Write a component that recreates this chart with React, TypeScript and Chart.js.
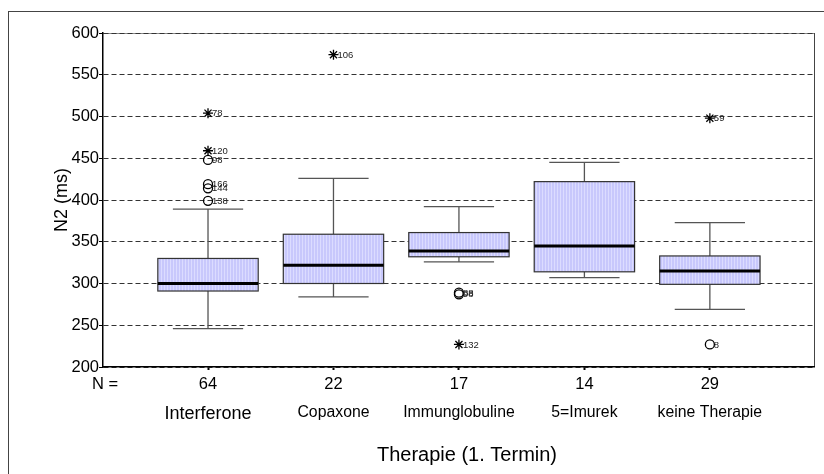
import { useEffect, useRef } from 'react';
import { Chart, registerables } from 'chart.js';

Chart.register(...registerables);

const FONT = "'Liberation Sans', Arial, Helvetica, sans-serif";

// Treatment groups and group sizes
const categories = ['Interferone', 'Copaxone', 'Immunglobuline', '5=Imurek', 'keine Therapie'];
const counts = [64, 22, 17, 14, 29];
const categoryFontSize = [18, 15.8, 15.8, 15.8, 15.8];
const categoryLabelShift = [0, 3, 7, -4, 6];

// Five-number summaries of N2 latency (ms) per group
const whiskerLow = [246, 284, 326, 307, 269];
const q1 = [291, 300, 332, 314, 299];
const median = [300, 322, 339, 345, 315];
const q3 = [330, 359, 361, 422, 333];
const whiskerHigh = [389, 426, 392, 445, 373];

// Outliers (circles) with case numbers
const outlierGroup = [0, 0, 0, 0, 2, 2, 4];
const outlierValue = [448, 419, 414, 399, 289, 287, 227];
const outlierCase = ['98', '166', '144', '138', '88', '98', '8'];

// Extreme values (stars) with case numbers
const extremeGroup = [0, 0, 1, 2, 4];
const extremeValue = [504, 459, 574, 227, 498];
const extremeCase = ['78', '120', '106', '132', '59'];

const yMin = 200;
const yMax = 600;
const yStep = 50;
const xTitle = 'Therapie (1. Termin)';

function makeStripePattern(ctx: CanvasRenderingContext2D) {
  const c = document.createElement('canvas');
  c.width = 3;
  c.height = 1;
  const p = c.getContext('2d')!;
  p.fillStyle = '#c8c8fc';
  p.fillRect(0, 0, 3, 1);
  p.fillStyle = '#dcdcff';
  p.fillRect(2, 0, 1, 1);
  return ctx.createPattern(c, 'repeat') || '#ccccff';
}

const boxPlotPlugin = {
  id: 'boxPlot',
  beforeDraw(chart: any) {
    const { ctx, width, height, chartArea } = chart;
    ctx.save();
    ctx.fillStyle = '#fff';
    ctx.fillRect(0, 0, width, height);
    // outer frame
    ctx.strokeStyle = '#444';
    ctx.lineWidth = 1;
    ctx.strokeRect(8.5, 11.5, width + 20, height + 20);
    // plot frame: top and right edges
    ctx.strokeStyle = '#888';
    ctx.beginPath();
    ctx.moveTo(chartArea.left, chartArea.top + 0.5);
    ctx.lineTo(chartArea.right, chartArea.top + 0.5);
    ctx.stroke();
    ctx.strokeStyle = '#444';
    ctx.beginPath();
    ctx.moveTo(chartArea.right + 0.5, chartArea.top);
    ctx.lineTo(chartArea.right + 0.5, chartArea.bottom);
    ctx.stroke();
    // axis title below the group labels
    ctx.fillStyle = '#000';
    ctx.font = `20px ${FONT}`;
    ctx.textAlign = 'center';
    ctx.textBaseline = 'middle';
    ctx.fillText(xTitle, 467, 455);
    ctx.restore();
  },
  beforeDatasetsDraw(chart: any) {
    const { ctx } = chart;
    const xs = chart.scales.x;
    const ys = chart.scales.y;
    const fill = makeStripePattern(ctx);
    ctx.save();
    categories.forEach((_, i) => {
      const xc = xs.getPixelForValue(i + 1);
      const half = xs.getPixelForValue(i + 1.4) - xc;
      const capHalf = xs.getPixelForValue(i + 1.28) - xc;
      const yLo = ys.getPixelForValue(whiskerLow[i]);
      const yQ1 = ys.getPixelForValue(q1[i]);
      const yMed = ys.getPixelForValue(median[i]);
      const yQ3 = ys.getPixelForValue(q3[i]);
      const yHi = ys.getPixelForValue(whiskerHigh[i]);

      // whiskers and caps
      ctx.strokeStyle = '#555';
      ctx.lineWidth = 1.3;
      ctx.beginPath();
      ctx.moveTo(xc, yQ3);
      ctx.lineTo(xc, yHi);
      ctx.moveTo(xc, yQ1);
      ctx.lineTo(xc, yLo);
      ctx.moveTo(xc - capHalf, yHi);
      ctx.lineTo(xc + capHalf, yHi);
      ctx.moveTo(xc - capHalf, yLo);
      ctx.lineTo(xc + capHalf, yLo);
      ctx.stroke();

      // box
      ctx.fillStyle = fill;
      ctx.fillRect(xc - half, yQ3, half * 2, yQ1 - yQ3);
      ctx.strokeStyle = '#333';
      ctx.lineWidth = 1.2;
      ctx.strokeRect(xc - half, yQ3, half * 2, yQ1 - yQ3);

      // median
      ctx.strokeStyle = '#000';
      ctx.lineWidth = 3;
      ctx.beginPath();
      ctx.moveTo(xc - half, yMed);
      ctx.lineTo(xc + half, yMed);
      ctx.stroke();
    });
    ctx.restore();
  },
  afterDatasetsDraw(chart: any) {
    const { ctx } = chart;
    ctx.save();
    ctx.font = `9.5px ${FONT}`;
    ctx.fillStyle = '#222';
    ctx.textAlign = 'left';
    ctx.textBaseline = 'middle';
    const caseLabels = [outlierCase, extremeCase];
    caseLabels.forEach((labels, d) => {
      const meta = chart.getDatasetMeta(d);
      meta.data.forEach((pt: any, i: number) => {
        ctx.fillText(labels[i], pt.x + 4, pt.y + 0.5);
      });
    });
    ctx.restore();
  },
};

export default function App() {
  const canvasRef = useRef<HTMLCanvasElement | null>(null);

  useEffect(() => {
    const canvas = canvasRef.current;
    if (!canvas) return;

    const chart = new Chart(canvas, {
      type: 'scatter',
      data: {
        datasets: [
          {
            label: 'Ausreißer',
            data: outlierValue.map((v, i) => ({ x: outlierGroup[i] + 1, y: v })),
            pointStyle: 'circle',
            pointRadius: 4.5,
            pointBorderWidth: 1.3,
            pointBorderColor: '#000',
            pointBackgroundColor: 'rgba(0,0,0,0)',
          },
          {
            label: 'Extremwerte',
            data: extremeValue.map((v, i) => ({ x: extremeGroup[i] + 1, y: v })),
            pointStyle: 'star',
            pointRadius: 5,
            pointBorderWidth: 1.3,
            pointBorderColor: '#000',
            pointBackgroundColor: '#000',
          },
        ],
      },
      options: {
        responsive: false,
        animation: false,
        events: [],
        layout: { padding: { left: 8, right: 10, top: 33, bottom: 0 } },
        plugins: {
          legend: { display: false },
          tooltip: { enabled: false },
        },
        scales: {
          x: {
            type: 'linear',
            position: 'bottom',
            min: 0.163,
            max: 5.83,
            afterBuildTicks: (scale: any) => {
              scale.ticks = [{ value: 0.18 }, ...categories.map((_, i) => ({ value: i + 1 }))];
            },
            afterFit: (scale: any) => {
              scale.height = 28;
            },
            grid: {
              display: true,
              drawOnChartArea: false,
              drawTicks: true,
              tickLength: 3,
              tickWidth: 2,
              tickColor: (c: any) => (c.index === 0 ? 'rgba(0,0,0,0)' : '#000'),
            },
            border: { display: true, color: '#000', width: 1.5 },
            ticks: {
              autoSkip: false,
              maxRotation: 0,
              padding: 5,
              color: '#000',
              font: { family: FONT, size: 16.5 },
              callback: (_v: any, i: number) => (i === 0 ? 'N =' : String(counts[i - 1])),
            },
          },
          x2: {
            type: 'linear',
            position: 'bottom',
            min: 0.163,
            max: 5.83,
            afterBuildTicks: (scale: any) => {
              scale.ticks = categories.map((_, i) => ({ value: i + 1 }));
            },
            afterFit: (scale: any) => {
              scale.height = 79;
            },
            grid: { display: false },
            border: { display: false },
            ticks: {
              autoSkip: false,
              maxRotation: 0,
              padding: 0,
              color: '#000',
              labelOffset: (c: any) => categoryLabelShift[c.index] ?? 0,
              font: (c: any) => ({ family: FONT, size: categoryFontSize[c.index] ?? 15.8 }),
              callback: (_v: any, i: number) => categories[i],
            },
          },
          y: {
            type: 'linear',
            min: yMin,
            max: yMax,
            afterFit: (scale: any) => {
              scale.width = 95;
            },
            grid: {
              display: true,
              color: '#333',
              lineWidth: 1,
              drawTicks: true,
              tickLength: 4,
              tickColor: '#000',
              tickWidth: 1,
            },
            border: { display: true, color: '#000', width: 1.5, dash: [5, 3] },
            ticks: {
              stepSize: yStep,
              padding: 0,
              color: '#000',
              font: { family: FONT, size: 16.5 },
            },
            title: {
              display: true,
              text: 'N2 (ms)',
              color: '#000',
              font: { family: FONT, size: 18 },
              padding: { top: 43, bottom: 0 },
            },
          },
        },
      },
      plugins: [boxPlotPlugin],
    } as any);

    return () => chart.destroy();
  }, []);

  return (
    <div style={{ position: 'absolute', left: 0, top: 0, width: 824, height: 474 }}>
      <canvas ref={canvasRef} width={824} height={474} style={{ width: 824, height: 474, display: 'block' }} />
    </div>
  );
}
